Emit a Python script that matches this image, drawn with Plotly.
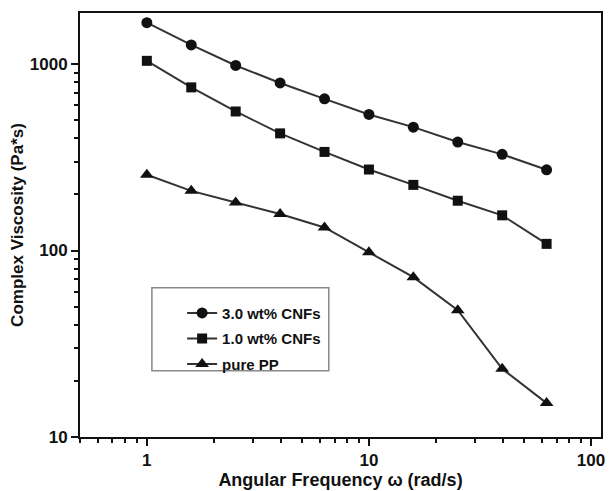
import plotly.graph_objects as go
import numpy as np

freq = [1.0, 1.585, 2.512, 3.981, 6.310, 10.0, 15.85, 25.12, 39.81, 63.10]
cnf3 = [1668, 1267, 983, 792, 651, 537, 459, 382, 328, 271]
cnf1 = [1041, 750, 557, 425, 338, 272, 225, 185, 154.5, 108.6]
pure_pp = [255, 209, 181, 157, 133, 98, 72, 47.9, 23.2, 15.2]
names = ["3.0 wt% CNFs", "1.0 wt% CNFs", "pure PP"]
symbols = ["circle", "square", "triangle-up"]
xticks = [1, 10, 100]
yticks = [10, 100, 1000]

FONT = "Liberation Sans, Arial, sans-serif"
fig = go.Figure()
for i, (name, vals, sym, sz) in enumerate(zip(names, [cnf3, cnf1, pure_pp], symbols, [11, 10, 12])):
    fig.add_trace(go.Scatter(
        x=freq, y=vals, name=name, mode="lines+markers", legendgroup=f"g{i}",
        line=dict(color="#333333", width=2),
        marker=dict(symbol=sym, size=sz, color="#111111"),
    ))

axis_common = dict(
    type="log", showgrid=False, zeroline=False,
    showline=True, linecolor="#111111", linewidth=2, mirror=True,
    ticks="outside", ticklen=7, tickwidth=2, tickcolor="#111111",
    minor=dict(ticks="outside", ticklen=4, tickwidth=1.5, tickcolor="#111111",
               dtick="D1", showgrid=False),
    tickfont=dict(family=FONT, size=17, color="#111111", weight="bold"),
)

fig.update_xaxes(**axis_common, range=[np.log10(0.5), 2.045],
                 tickvals=xticks, ticktext=[str(v) for v in xticks],
                 title=dict(text="Angular Frequency ω (rad/s)", standoff=2,
                            font=dict(family=FONT, size=18, color="#111111", weight="bold")))
fig.update_yaxes(**axis_common, range=[1, 3.274],
                 tickvals=yticks, ticktext=[str(v) for v in yticks],
                 title=dict(text="Complex Viscosity (Pa*s)", standoff=2,
                            font=dict(family=FONT, size=17, color="#111111", weight="bold")))

fig.add_shape(type="rect", xref="paper", yref="paper",
              x0=0.138, x1=0.4775, y0=0.156, y1=0.352,
              line=dict(color="#888888", width=1.5), fillcolor="rgba(0,0,0,0)", layer="below")

fig.update_layout(
    width=611, height=491,
    margin=dict(l=80, r=6, t=13, b=52),
    paper_bgcolor="white", plot_bgcolor="white",
    showlegend=True,
    legend=dict(x=0.196, y=0.331, xanchor="left", yanchor="top",
                borderwidth=0, bgcolor="rgba(0,0,0,0)",
                font=dict(family=FONT, size=15, color="#111111", weight="bold"),
                tracegroupgap=3),
)

fig.write_html("out.html")
